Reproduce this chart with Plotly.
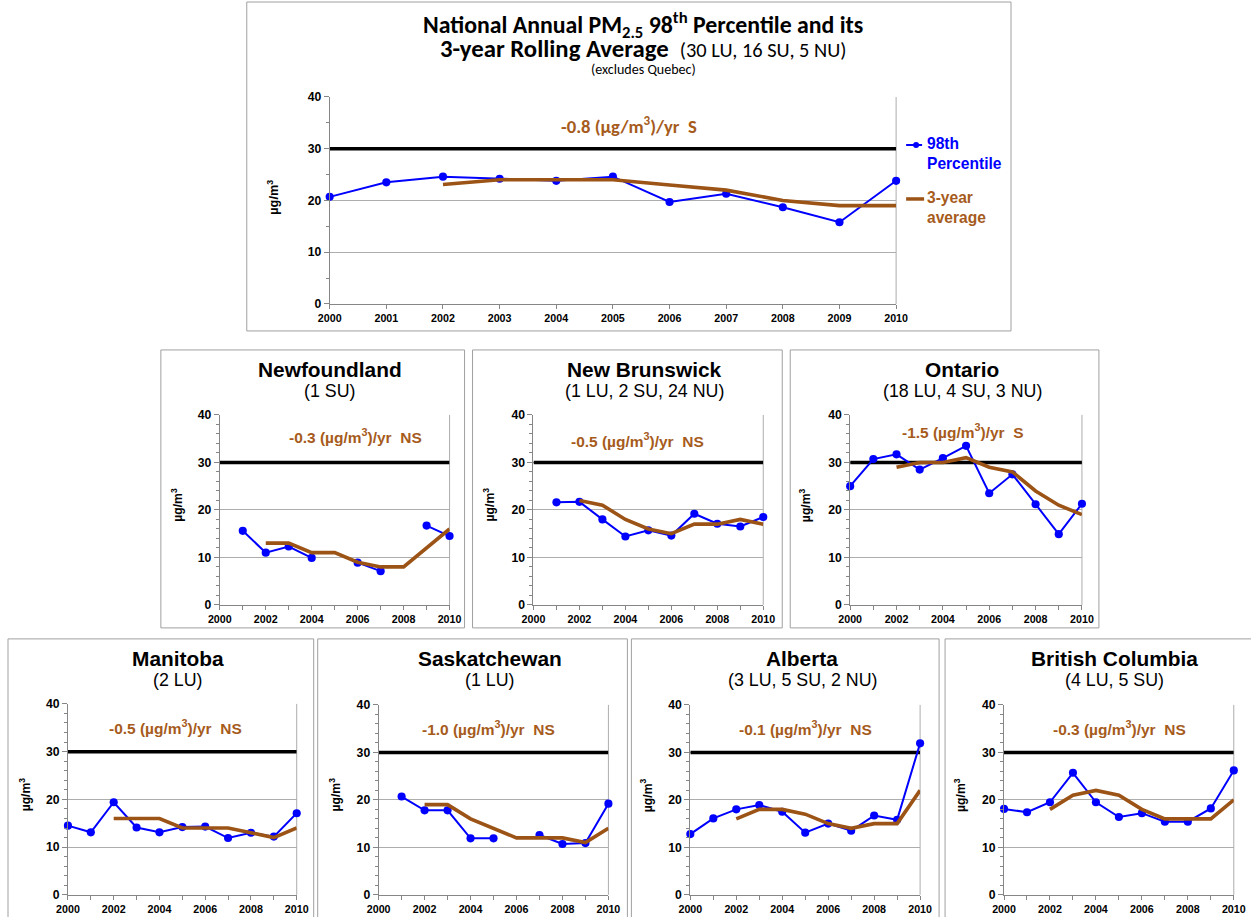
import plotly.graph_objects as go

# ---------------------------------------------------------------------------
# PM2.5 98th percentile (µg/m³) by year and its 3-year rolling average
# ---------------------------------------------------------------------------
YEARS = list(range(2000, 2011))
AVG_YEARS = list(range(2002, 2011))
CWS_LIMIT = 30  # Canada-wide standard

national_p98 = [20.7, 23.5, 24.6, 24.2, 23.8, 24.6, 19.7, 21.3, 18.7, 15.8, 23.8]
national_avg = [23.1, 24, 24, 24, 23, 22, 20, 19, 19]

newfoundland_p98 = [None, 15.6, 11.0, 12.3, 9.9, None, 8.9, 7.1, None, 16.7, 14.5]
newfoundland_avg = [13, 13, 11, 11, 9, 8, 8, 12, 16]

new_brunswick_p98 = [None, 21.6, 21.7, 18.0, 14.4, 15.7, 14.6, 19.2, 17.1, 16.5, 18.5]
new_brunswick_avg = [22, 21, 18, 16, 15, 17, 17, 18, 17]

ontario_p98 = [25.0, 30.7, 31.7, 28.5, 30.9, 33.5, 23.5, 27.5, 21.2, 14.9, 21.3]
ontario_avg = [29, 30, 30, 31, 29, 28, 24, 21, 19]

manitoba_p98 = [14.5, 13.1, 19.4, 14.1, 13.1, 14.2, 14.3, 11.9, 13.0, 12.2, 17.1]
manitoba_avg = [16, 16, 16, 14, 14, 14, 13, 12, 14]

saskatchewan_p98 = [None, 20.7, 17.8, 17.8, 11.9, 11.9, None, 12.6, 10.7, 10.9, 19.2]
saskatchewan_avg = [19, 19, 16, 14, 12, 12, 12, 11, 14]

alberta_p98 = [12.8, 16.1, 18.0, 18.9, 17.5, 13.1, 15.0, 13.5, 16.7, 15.8, 31.9]
alberta_avg = [16, 18, 18, 17, 15, 14, 15, 15, 22]

bc_p98 = [18.1, 17.4, 19.5, 25.7, 19.5, 16.4, 17.2, 15.4, 15.4, 18.2, 26.2]
bc_avg = [18, 21, 22, 21, 18, 16, 16, 16, 20]

# (name, station counts, trend slope, significance, 98th series, 3-yr series)
REGIONS = [
    ("Newfoundland", "(1 SU)", "-0.3", "NS", newfoundland_p98, newfoundland_avg),
    ("New Brunswick", "(1 LU, 2 SU, 24 NU)", "-0.5", "NS", new_brunswick_p98, new_brunswick_avg),
    ("Ontario", "(18 LU, 4 SU, 3 NU)", "-1.5", "S", ontario_p98, ontario_avg),
    ("Manitoba", "(2 LU)", "-0.5", "NS", manitoba_p98, manitoba_avg),
    ("Saskatchewan", "(1 LU)", "-1.0", "NS", saskatchewan_p98, saskatchewan_avg),
    ("Alberta", "(3 LU, 5 SU, 2 NU)", "-0.1", "NS", alberta_p98, alberta_avg),
    ("British Columbia", "(4 LU, 5 SU)", "-0.3", "NS", bc_p98, bc_avg),
]

# ---------------------------------------------------------------------------
# Layout positions are given in screen pixels and converted to paper fractions
# (screen = offset + scale * figure pixel).
# ---------------------------------------------------------------------------
OX, OY = 12.0, 7.0
SX, SY = 0.982, 0.985
W, H = 1265, 924
FS = 1 / SX  # font/marker size factor

GEOM = [
    dict(frame=(161, 465, 350, 628), plot=(220, 450, 415, 605), tx=330, trx=356, try_=436, yl=177, ty=370),
    dict(frame=(473, 783, 350, 628), plot=(534, 764, 415, 605), tx=645, trx=638, try_=440, yl=489, ty=370),
    dict(frame=(791, 1100, 350, 628), plot=(851, 1083, 415, 605), tx=963, trx=964, try_=431, yl=806, ty=370),
    dict(frame=(8, 314, 639, 940), plot=(68, 297, 704, 895), tx=178, trx=176, try_=727, yl=25, ty=659),
    dict(frame=(318, 628, 639, 940), plot=(379, 609, 705, 895), tx=490, trx=489, try_=728, yl=335, ty=659),
    dict(frame=(632, 940, 639, 940), plot=(691, 921, 705, 895), tx=803, trx=806, try_=728, yl=647, ty=659),
    dict(frame=(946, 1270, 639, 940), plot=(1005, 1235, 705, 895), tx=1116, trx=1121, try_=728, yl=961, ty=659),
]
TOP = dict(frame=(247, 1012, 2, 331), plot=(330, 897, 97, 304))


def px(x):
    return ((x - OX) / SX) / W


def py(y):
    return 1 - ((y - OY) / SY) / H


BLUE = "#0000FF"
BROWN = "#9C5316"
BROWN_TXT = "#A65B1C"
AXIS = "#868686"
GRID = "#ADADAD"
FRAME = "#A0A0A0"
ARIAL = "Liberation Sans, Arial, sans-serif"
NARROW = "Carlito, Liberation Sans Narrow, Liberation Sans, Arial, sans-serif"

fig = go.Figure()
shapes = []
annotations = []
layout_axes = {}


def add_panel(idx, plot_box, p98, avg, top=False):
    xa = "x" if idx == 1 else f"x{idx}"
    ya = "y" if idx == 1 else f"y{idx}"
    xname = "xaxis" if idx == 1 else f"xaxis{idx}"
    yname = "yaxis" if idx == 1 else f"yaxis{idx}"
    l, r, t, b = plot_box

    # CWS reference line
    fig.add_trace(go.Scatter(x=[YEARS[0], YEARS[-1]], y=[CWS_LIMIT, CWS_LIMIT], mode="lines",
                             line=dict(color="black", width=3.5), xaxis=xa, yaxis=ya,
                             showlegend=False, hoverinfo="skip", cliponaxis=False))
    fig.add_trace(go.Scatter(x=YEARS, y=p98, mode="lines+markers",
                             line=dict(color=BLUE, width=2), marker=dict(color=BLUE, size=8 * FS),
                             connectgaps=False, xaxis=xa, yaxis=ya, showlegend=False,
                             cliponaxis=False, name="98th Percentile"))
    fig.add_trace(go.Scatter(x=AVG_YEARS, y=avg, mode="lines",
                             line=dict(color=BROWN, width=3.6), xaxis=xa, yaxis=ya,
                             showlegend=False, cliponaxis=False, name="3-year average"))

    tick_font = dict(family=ARIAL, size=10.5 * FS, color="black", weight="bold")
    layout_axes[xname] = dict(
        domain=[px(l), px(r)], anchor=ya, range=[YEARS[0], YEARS[-1]],
        tickmode="array", tickvals=YEARS if top else YEARS[::2],
        ticks="outside", ticklen=4, tickcolor=AXIS,
        minor=dict(ticks="outside", ticklen=4, dtick=1, tickcolor=AXIS, tick0=2000),
        showline=True, linecolor=AXIS, linewidth=1, showgrid=False, zeroline=False,
        tickfont=tick_font, fixedrange=True,
    )
    layout_axes[yname] = dict(
        domain=[py(b), py(t)], anchor=xa, range=[0, 40],
        tickmode="array", tickvals=[0, 10, 20, 30, 40],
        ticks="outside", ticklen=5, tickcolor=AXIS,
        minor=dict(ticks="outside", ticklen=3, dtick=5 if top else 2, tickcolor=AXIS, showgrid=False),
        showline=True, linecolor=AXIS, linewidth=1, showgrid=True, gridcolor=GRID, gridwidth=1,
        zeroline=False, tickfont=dict(family=ARIAL, size=12 * FS, color="black", weight="bold"),
        fixedrange=True,
    )
    # light border on the right of the plot area
    shapes.append(dict(type="line", xref=f"{xa} domain", yref=f"{ya} domain",
                       x0=1, x1=1, y0=0, y1=1, line=dict(color=GRID, width=1), layer="below"))


def frame(box):
    l, r, t, b = box
    shapes.append(dict(type="rect", xref="paper", yref="paper", x0=px(l), x1=px(r),
                       y0=py(b), y1=py(t), line=dict(color=FRAME, width=1), layer="below"))


def text(x, y, s, size, color="black", family=ARIAL, weight="bold", angle=0, xanchor="center"):
    annotations.append(dict(xref="paper", yref="paper", x=px(x), y=py(y), text=s,
                            showarrow=False, xanchor=xanchor, yanchor="middle",
                            textangle=angle, align="left",
                            font=dict(family=family, size=size * FS, color=color, weight=weight)))


# ---- national chart ----
frame(TOP["frame"])
add_panel(1, TOP["plot"], national_p98, national_avg, top=True)
text(644, 25, "National Annual PM<sub>2.5</sub> 98<sup>th</sup> Percentile and its", 23.4, family=NARROW)
text(644, 49, "3-year Rolling Average  <span style='font-weight:normal;font-size:%.1fpx'>(30 LU, 16 SU, 5 NU)</span>"
     % (20 * FS), 24.3, family=NARROW)
text(644, 70, "(excludes Quebec)", 13.8, family=NARROW, weight="normal")
text(630, 126, "-0.8 (µg/m<sup>3</sup>)/yr  S", 18.3, color=BROWN_TXT, family=NARROW)
text(273, 197, "µg/m<sup>3</sup>", 12.5, angle=-90)

# legend
shapes.append(dict(type="line", xref="paper", yref="paper", x0=px(907), x1=px(923),
                   y0=py(145), y1=py(145), line=dict(color=BLUE, width=2)))
shapes.append(dict(type="circle", xref="paper", yref="paper", x0=px(914), x1=px(920),
                   y0=py(148), y1=py(142), fillcolor=BLUE, line=dict(color=BLUE, width=0)))
shapes.append(dict(type="line", xref="paper", yref="paper", x0=px(907), x1=px(925),
                   y0=py(199), y1=py(199), line=dict(color=BROWN, width=3.5)))
text(926, 154, "98th<br>Percentile", 15.3, color=BLUE, xanchor="left")
text(926, 208, "3-year<br>average", 15.3, color=BROWN_TXT, xanchor="left")

# ---- provincial charts ----
for i, ((name, counts, slope, sig, p98, avg), g) in enumerate(zip(REGIONS, GEOM)):
    frame(g["frame"])
    add_panel(i + 2, g["plot"], p98, avg)
    text(g["tx"], g["ty"], name, 20.5)
    text(g["tx"], g["ty"] + 21, counts, 17.5, weight="normal")
    text(g["trx"], g["try_"], f"{slope} (µg/m<sup>3</sup>)/yr  {sig}", 15.2, color=BROWN_TXT)
    text(g["yl"], (g["plot"][2] + g["plot"][3]) / 2 - 5, "µg/m<sup>3</sup>", 12, angle=-90)

fig.update_layout(
    width=W, height=H, margin=dict(l=0, r=0, t=0, b=0),
    paper_bgcolor="white", plot_bgcolor="white",
    shapes=shapes, annotations=annotations, showlegend=False,
    **layout_axes,
)

fig.write_html("out.html")
